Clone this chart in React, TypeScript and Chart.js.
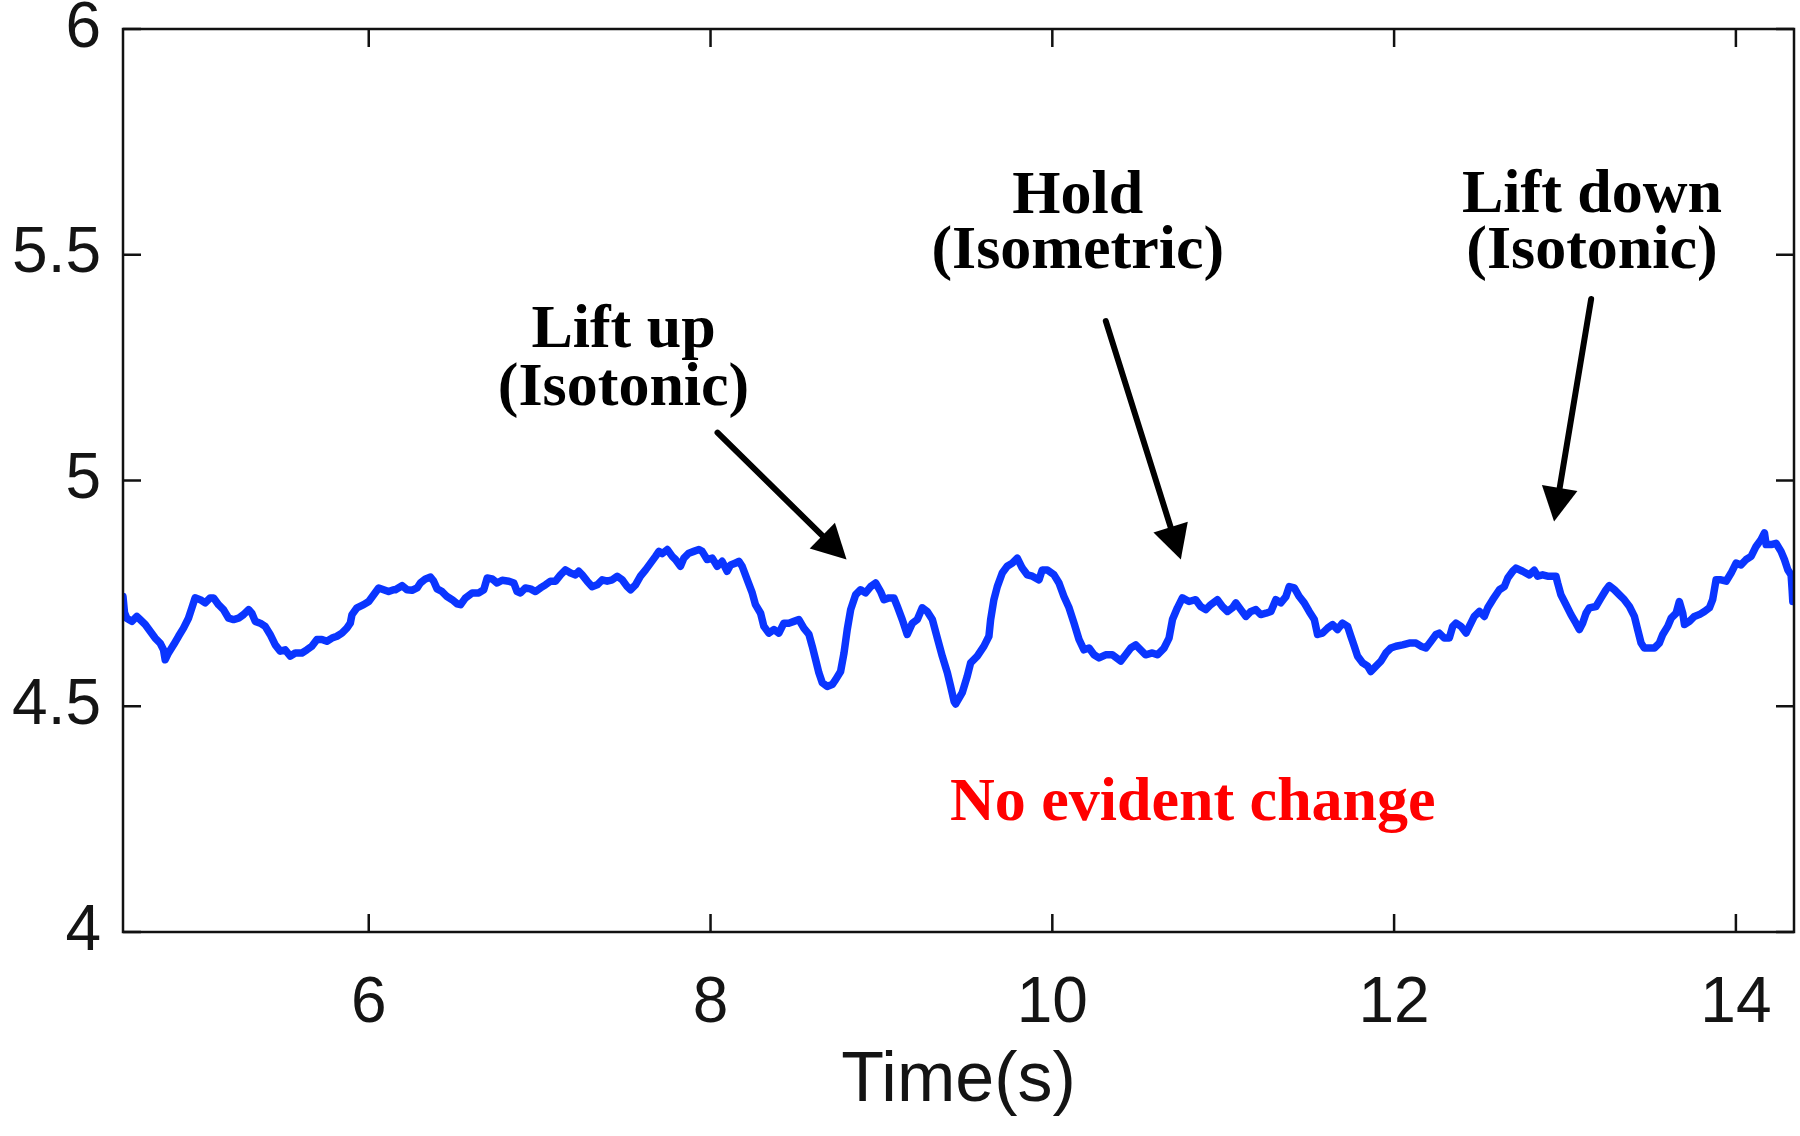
import React, { useEffect, useRef } from "react";
import { Chart, registerables } from "chart.js";

Chart.register(...registerables);

// ---- data ----
const timeValues: number[] = [
  4.562, 4.571, 4.584, 4.614, 4.643, 4.662, 4.692, 4.721, 4.750, 4.779, 4.799, 4.809, 4.828, 4.858, 4.887, 4.916, 4.945, 4.965, 4.984, 5.014,
  5.043, 5.072, 5.092, 5.121, 5.150, 5.180, 5.209, 5.238, 5.267, 5.297, 5.316, 5.336, 5.365, 5.394, 5.423, 5.453, 5.482, 5.511, 5.541, 5.570,
  5.609, 5.638, 5.667, 5.697, 5.726, 5.755, 5.785, 5.814, 5.843, 5.872, 5.892, 5.902, 5.931, 5.970, 6.000, 6.029, 6.058, 6.087, 6.116, 6.146,
  6.156, 6.195, 6.224, 6.254, 6.283, 6.302, 6.332, 6.361, 6.380, 6.400, 6.429, 6.458, 6.488, 6.517, 6.537, 6.566, 6.605, 6.644, 6.673, 6.693,
  6.722, 6.751, 6.781, 6.820, 6.849, 6.868, 6.888, 6.917, 6.946, 6.976, 7.005, 7.034, 7.063, 7.093, 7.122, 7.151, 7.181, 7.210, 7.229, 7.249,
  7.278, 7.307, 7.337, 7.366, 7.395, 7.425, 7.454, 7.483, 7.512, 7.532, 7.561, 7.590, 7.620, 7.649, 7.678, 7.698, 7.717, 7.747, 7.776,
  7.795, 7.824, 7.844, 7.873, 7.902, 7.932, 7.951, 7.980, 8.010, 8.039, 8.068, 8.097, 8.117, 8.146, 8.166, 8.185, 8.215, 8.244, 8.263, 8.293,
  8.312, 8.341, 8.371, 8.400, 8.429, 8.458, 8.488, 8.517, 8.546, 8.576, 8.595, 8.615, 8.634, 8.654, 8.683, 8.712, 8.732, 8.761, 8.781, 8.800,
  8.820, 8.849, 8.878, 8.907, 8.937, 8.966, 8.995, 9.015, 9.044, 9.073, 9.093, 9.122, 9.151, 9.181, 9.210, 9.239, 9.268, 9.298, 9.327, 9.356,
  9.386, 9.405, 9.425,
  9.434, 9.473, 9.502, 9.522, 9.561, 9.600, 9.629, 9.639, 9.658, 9.678, 9.707, 9.736, 9.766, 9.795, 9.824, 9.854, 9.883, 9.922, 9.941, 9.971,
  10.010, 10.039, 10.068, 10.098, 10.127, 10.156, 10.185, 10.215, 10.244, 10.273, 10.312, 10.351, 10.400, 10.429, 10.459, 10.488, 10.517, 10.546, 10.585, 10.615,
  10.654, 10.683, 10.703, 10.732, 10.761, 10.800, 10.839, 10.868, 10.898, 10.927, 10.966, 10.995, 11.025, 11.054,
  11.074, 11.103, 11.133, 11.162, 11.191, 11.220, 11.250, 11.279, 11.308, 11.337, 11.367, 11.386, 11.416, 11.445, 11.474, 11.503, 11.533, 11.552, 11.581, 11.611,
  11.640, 11.669, 11.698, 11.728, 11.747, 11.767, 11.786, 11.816, 11.845, 11.864, 11.894, 11.923, 11.952, 11.981, 12.011, 12.050, 12.089, 12.128, 12.157, 12.186,
  12.216, 12.245, 12.264, 12.294, 12.323, 12.343, 12.362, 12.391, 12.421, 12.440, 12.469, 12.499, 12.528, 12.548, 12.577, 12.616, 12.645, 12.665, 12.694,
  12.713, 12.752, 12.791, 12.820, 12.840, 12.869, 12.898, 12.928, 12.947, 12.957, 12.976, 13.006, 13.035, 13.064, 13.084, 13.103, 13.123, 13.142, 13.181, 13.211,
  13.240, 13.259, 13.289, 13.318, 13.347, 13.377, 13.406, 13.425, 13.445, 13.464, 13.494, 13.523, 13.552, 13.572, 13.601, 13.621, 13.650, 13.669, 13.689, 13.699,
  13.728, 13.757, 13.786, 13.816, 13.845, 13.864, 13.884, 13.913, 13.943, 13.972, 14.001, 14.030, 14.060, 14.089, 14.118, 14.147, 14.167, 14.177, 14.206, 14.235,
  14.264, 14.284, 14.304, 14.323, 14.329, 14.333,
];

const signalValues: number[] = [
  4.743, 4.707, 4.695, 4.688, 4.699, 4.692, 4.681, 4.666, 4.651, 4.640, 4.625, 4.603, 4.618, 4.636, 4.655, 4.673, 4.695, 4.718, 4.740, 4.736,
  4.729, 4.740, 4.740, 4.725, 4.714, 4.695, 4.692, 4.695, 4.703, 4.714, 4.706, 4.688, 4.684, 4.677, 4.659, 4.636, 4.622, 4.625, 4.611, 4.618,
  4.618, 4.625, 4.633, 4.648, 4.648, 4.644, 4.651, 4.655, 4.662, 4.673, 4.684, 4.703, 4.718, 4.725, 4.732, 4.747, 4.762, 4.758, 4.754, 4.758,
  4.758, 4.767, 4.758, 4.757, 4.762, 4.773, 4.782, 4.786, 4.777, 4.760, 4.754, 4.743, 4.736, 4.727, 4.725, 4.740, 4.751, 4.751, 4.758, 4.784,
  4.782, 4.773, 4.779, 4.777, 4.773, 4.754, 4.751, 4.762, 4.760, 4.754, 4.762, 4.769, 4.777, 4.777, 4.791, 4.802, 4.795, 4.791, 4.799, 4.791,
  4.777, 4.765, 4.769, 4.780, 4.777, 4.780, 4.788, 4.780, 4.765, 4.758, 4.769, 4.788, 4.802, 4.817, 4.832, 4.843, 4.838, 4.847, 4.832,
  4.825, 4.810, 4.828, 4.839, 4.843, 4.847, 4.843, 4.825, 4.828, 4.810, 4.821, 4.799, 4.813, 4.817, 4.821, 4.810, 4.780, 4.751, 4.725, 4.706,
  4.677, 4.662, 4.670, 4.662, 4.684, 4.684, 4.688, 4.692, 4.673, 4.659, 4.633, 4.603, 4.574, 4.552, 4.544, 4.548, 4.559, 4.577, 4.618, 4.670,
  4.714, 4.747, 4.758, 4.751, 4.765, 4.773, 4.754, 4.736, 4.740, 4.740, 4.721, 4.692, 4.659, 4.684, 4.692, 4.718, 4.710, 4.692, 4.651, 4.611,
  4.574, 4.544, 4.511,
  4.505, 4.530, 4.566, 4.596, 4.611, 4.633, 4.655, 4.692, 4.736, 4.765, 4.795, 4.810, 4.817, 4.828, 4.806, 4.791, 4.788, 4.780, 4.802, 4.802,
  4.791, 4.773, 4.743, 4.718, 4.684, 4.648, 4.625, 4.629, 4.614, 4.607, 4.614, 4.614, 4.600, 4.614, 4.629, 4.636, 4.625, 4.614, 4.618, 4.614,
  4.629, 4.651, 4.692, 4.718, 4.740, 4.732, 4.736, 4.721, 4.714, 4.725, 4.736, 4.721, 4.710, 4.718,
  4.729, 4.714, 4.699, 4.710, 4.714, 4.703, 4.706, 4.710, 4.736, 4.729, 4.743, 4.765, 4.762, 4.743, 4.729, 4.710, 4.692, 4.659, 4.662, 4.673,
  4.681, 4.670, 4.684, 4.677, 4.655, 4.633, 4.611, 4.596, 4.589, 4.577, 4.589, 4.600, 4.618, 4.629, 4.633, 4.636, 4.640, 4.640, 4.633, 4.629,
  4.644, 4.659, 4.662, 4.651, 4.651, 4.677, 4.684, 4.677, 4.662, 4.677, 4.699, 4.710, 4.699, 4.718, 4.736, 4.758, 4.765, 4.784, 4.799,
  4.806, 4.799, 4.791, 4.801, 4.788, 4.791, 4.788, 4.788, 4.788, 4.773, 4.747, 4.725, 4.703, 4.684, 4.670, 4.684, 4.706, 4.718, 4.721, 4.740,
  4.758, 4.767, 4.758, 4.747, 4.736, 4.721, 4.699, 4.670, 4.640, 4.629, 4.629, 4.629, 4.640, 4.659, 4.677, 4.695, 4.706, 4.732, 4.706, 4.681,
  4.688, 4.699, 4.703, 4.710, 4.718, 4.736, 4.780, 4.780, 4.777, 4.795, 4.817, 4.813, 4.825, 4.832, 4.854, 4.869, 4.884, 4.858, 4.858, 4.861,
  4.843, 4.825, 4.802, 4.791, 4.758, 4.732,
];

const xTickValues = [6, 8, 10, 12, 14];
const xTickLabels = ["6", "8", "10", "12", "14"];
const yTickValues = [4, 4.5, 5, 5.5, 6];
const yTickLabels = ["4", "4.5", "5", "5.5", "6"];
const xAxisTitle = "Time(s)";

// annotation texts, anchored in data coordinates
const phaseLabels = [
  { lines: ["Lift up", "(Isotonic)"], x: 7.491, y: [5.296, 5.167] },
  { lines: ["Hold", "(Isometric)"], x: 10.149, y: [5.592, 5.471] },
  { lines: ["Lift down", "(Isotonic)"], x: 13.158, y: [5.594, 5.471] },
];
const phaseArrows = [
  { from: [8.041, 5.106], to: [8.796, 4.825] },
  { from: [10.313, 5.353], to: [10.752, 4.825] },
  { from: [13.153, 5.402], to: [12.936, 4.909] },
];
const noteText = { text: "No evident change", x: 10.822, y: 4.247 };

const SANS = "'Liberation Sans', Arial, sans-serif";
const SERIF = "'Liberation Serif', 'Times New Roman', serif";

const framePlugin = {
  id: "framePlugin",
  afterDraw(chart: any) {
    const { ctx, chartArea: a, scales } = chart;
    const xs = scales.x;
    const ys = scales.y;
    ctx.save();
    ctx.strokeStyle = "#111";
    ctx.lineWidth = 2.5;
    ctx.strokeRect(a.left, a.top, a.right - a.left, a.bottom - a.top);
    const tl = 18;
    ctx.beginPath();
    for (const v of yTickValues) {
      const py = ys.getPixelForValue(v);
      ctx.moveTo(a.left, py);
      ctx.lineTo(a.left + tl, py);
      ctx.moveTo(a.right, py);
      ctx.lineTo(a.right - tl, py);
    }
    for (const v of xTickValues) {
      const px = xs.getPixelForValue(v);
      ctx.moveTo(px, a.bottom);
      ctx.lineTo(px, a.bottom - tl);
      ctx.moveTo(px, a.top);
      ctx.lineTo(px, a.top + tl);
    }
    ctx.stroke();

    // arrows
    ctx.fillStyle = "#000";
    ctx.strokeStyle = "#000";
    for (const ar of phaseArrows) {
      const x1 = xs.getPixelForValue(ar.from[0]);
      const y1 = ys.getPixelForValue(ar.from[1]);
      const x2 = xs.getPixelForValue(ar.to[0]);
      const y2 = ys.getPixelForValue(ar.to[1]);
      const ang = Math.atan2(y2 - y1, x2 - x1);
      const headLen = 34;
      const headHalf = 18;
      const bx = x2 - headLen * Math.cos(ang);
      const by = y2 - headLen * Math.sin(ang);
      ctx.lineWidth = 6;
      ctx.lineCap = "round";
      ctx.beginPath();
      ctx.moveTo(x1, y1);
      ctx.lineTo(bx, by);
      ctx.stroke();
      ctx.beginPath();
      ctx.moveTo(x2, y2);
      ctx.lineTo(bx + headHalf * Math.sin(ang), by - headHalf * Math.cos(ang));
      ctx.lineTo(bx - headHalf * Math.sin(ang), by + headHalf * Math.cos(ang));
      ctx.closePath();
      ctx.fill();
    }

    // phase labels
    ctx.font = `bold 62px ${SERIF}`;
    ctx.textAlign = "center";
    ctx.textBaseline = "alphabetic";
    ctx.fillStyle = "#000";
    for (const lb of phaseLabels) {
      const px = xs.getPixelForValue(lb.x);
      lb.lines.forEach((t, i) => {
        ctx.fillText(t, px, ys.getPixelForValue(lb.y[i]));
      });
    }
    ctx.fillStyle = "#ff0000";
    ctx.fillText(noteText.text, xs.getPixelForValue(noteText.x), ys.getPixelForValue(noteText.y));
    ctx.restore();
  },
};

export default function App() {
  const canvasRef = useRef<HTMLCanvasElement | null>(null);

  useEffect(() => {
    const canvas = canvasRef.current;
    if (!canvas) return;
    const points = timeValues.map((t, i) => ({ x: t, y: signalValues[i] }));
    const chart = new Chart(canvas, {
      type: "line",
      data: {
        datasets: [
          {
            data: points,
            borderColor: "#0a35ff",
            borderWidth: 7.5,
            pointRadius: 0,
            tension: 0,
            borderJoinStyle: "round",
            borderCapStyle: "round",
            fill: false,
          },
        ],
      },
      options: {
        animation: false,
        responsive: true,
        maintainAspectRatio: false,
        devicePixelRatio: 1,
        layout: { padding: { top: 29, right: 6, left: 0, bottom: 0 } },
        plugins: { legend: { display: false }, tooltip: { enabled: false } },
        scales: {
          x: {
            type: "linear",
            min: 4.562,
            max: 14.34,
            afterBuildTicks: (s: any) => {
              s.ticks = xTickValues.map((v) => ({ value: v }));
            },
            afterFit: (s: any) => {
              s.height = 204;
              s.paddingLeft = 0;
              s.paddingRight = 0;
            },
            ticks: {
              font: { family: SANS, size: 64 },
              color: "#141414",
              padding: 34,
              maxRotation: 0,
              autoSkip: false,
              callback: (v: any) => {
                const i = xTickValues.indexOf(Number(v));
                return i >= 0 ? xTickLabels[i] : "";
              },
            },
            grid: { display: false, drawTicks: false },
            border: { display: false },
            title: {
              display: true,
              text: xAxisTitle,
              font: { family: SANS, size: 70 },
              color: "#141414",
              padding: { top: 0, bottom: 12 },
            },
          },
          y: {
            type: "linear",
            min: 4,
            max: 6,
            afterBuildTicks: (s: any) => {
              s.ticks = yTickValues.map((v) => ({ value: v }));
            },
            afterFit: (s: any) => {
              s.width = 123;
              s.paddingTop = 0;
              s.paddingBottom = 0;
            },
            ticks: {
              font: { family: SANS, size: 64 },
              color: "#141414",
              padding: 22,
              autoSkip: false,
              callback: (v: any) => {
                const i = yTickValues.indexOf(Number(v));
                return i >= 0 ? yTickLabels[i] : "";
              },
            },
            grid: { display: false, drawTicks: false },
            border: { display: false },
          },
        },
      },
      plugins: [framePlugin],
    });
    return () => chart.destroy();
  }, []);

  return (
    <div style={{ position: "fixed", left: 0, top: 0, width: 1800, height: 1136, background: "#fff" }}>
      <canvas ref={canvasRef} />
    </div>
  );
}
